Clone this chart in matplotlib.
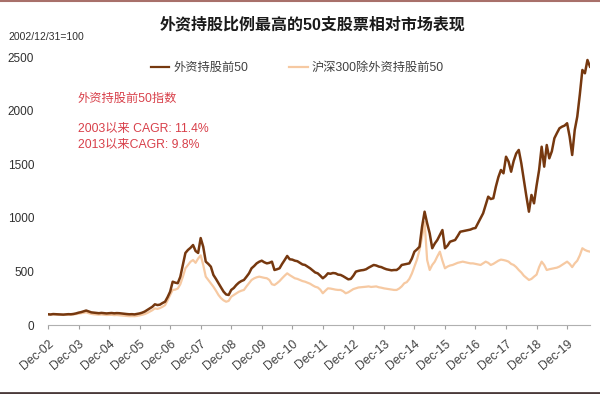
import matplotlib
matplotlib.use("Agg")
import matplotlib.pyplot as plt
from matplotlib.lines import Line2D

plt.rcParams['font.family'] = ['Liberation Sans', 'Noto Sans CJK SC', 'DejaVu Sans']

# Monthly index values, Dec-2002 = 100
top50 = [
    100, 98, 102, 101, 99, 100, 97, 99, 101, 100, 103, 108,
    115, 120, 128, 135, 126, 118, 115, 112, 110, 113, 111, 108,
    110, 112, 109, 111, 110, 107, 104, 102, 100, 101, 99, 103,
    108, 115, 125, 140, 155, 170, 193, 186, 190, 205, 217, 260,
    311, 404, 395, 390, 450, 560, 672, 700, 720, 746, 690, 672,
    811, 730, 591, 570, 544, 467, 430, 389, 350, 311, 285, 280,
    327, 345, 373, 395, 410, 420, 450, 482, 529, 550, 575, 590,
    600, 585, 575, 580, 591, 513, 520, 529, 570, 606, 644, 613,
    610, 600, 595, 580, 565, 560, 545, 529, 510, 490, 482, 460,
    436, 455, 482, 478, 485, 482, 470, 467, 455, 440, 426, 430,
    460, 498, 505, 510, 513, 520, 535, 548, 560, 555, 545, 540,
    529, 520, 515, 510, 513, 513, 530, 560, 565, 570, 575, 620,
    684, 705, 730, 917, 1057, 949, 855, 716, 760, 793, 840, 886,
    716, 740, 777, 785, 793, 830, 870, 875, 880, 886, 890, 900,
    905, 950, 995, 1042, 1120, 1197, 1175, 1182, 1290, 1380, 1446, 1415,
    1570, 1524, 1430, 1530, 1600, 1633, 1509, 1353, 1200, 1057, 1213, 1135,
    1300, 1446, 1663, 1477, 1679, 1555, 1620, 1742, 1790, 1835, 1850, 1860,
    1882, 1757, 1586, 1819, 1944, 2150, 2379, 2348, 2472, 2410,
]

hs300_ex = [
    100, 97, 99, 98, 95, 96, 94, 95, 97, 96, 98, 102,
    106, 110, 115, 118, 110, 104, 100, 98, 96, 98, 95, 93,
    94, 95, 92, 93, 91, 88, 86, 84, 82, 83, 82, 85,
    90, 95, 102, 112, 125, 138, 155, 150, 158, 170, 185, 230,
    280, 327, 330, 340, 380, 450, 529, 560, 590, 606, 580, 620,
    650, 560, 451, 420, 390, 357, 320, 280, 250, 230, 217, 225,
    264, 280, 295, 310, 320, 327, 360, 390, 420, 435, 445, 451,
    445, 440, 436, 420, 380, 373, 390, 410, 436, 460, 482, 465,
    450, 436, 430, 420, 410, 404, 395, 385, 370, 357, 350, 330,
    296, 320, 342, 340, 335, 330, 327, 327, 315, 296, 305, 320,
    335, 342, 350, 352, 355, 357, 360, 355, 357, 360, 352, 348,
    342, 338, 335, 330, 327, 327, 340, 360, 389, 400, 430, 480,
    544, 610, 700, 820, 960, 606, 513, 560, 591, 640, 684, 600,
    529, 545, 555, 560, 570, 580, 585, 591, 585, 580, 575, 575,
    570, 565, 560, 575, 591, 580, 560, 570, 585, 600, 610, 606,
    600, 591, 570, 560, 540, 513, 490, 460, 440, 420, 430, 451,
    470, 540, 591, 560, 513, 520, 525, 529, 535, 545, 560, 575,
    591, 570, 540, 575, 600, 650, 716, 700, 690, 684,
]

tick_labels = ['Dec-02', 'Dec-03', 'Dec-04', 'Dec-05', 'Dec-06', 'Dec-07',
               'Dec-08', 'Dec-09', 'Dec-10', 'Dec-11', 'Dec-12', 'Dec-13',
               'Dec-14', 'Dec-15', 'Dec-16', 'Dec-17', 'Dec-18', 'Dec-19']
y_ticks = [0, 500, 1000, 1500, 2000, 2500]

series_names = ['外资持股前50', '沪深300除外资持股前50']
dark_c = '#76380f'
light_c = '#f6c9a2'

fig = plt.figure(figsize=(6.0, 3.94), dpi=100)
ax = fig.add_axes([48/600, 69/394, 542/600, 268/394])

months = list(range(len(top50)))
ax.plot(months, hs300_ex, color=light_c, lw=1.6, zorder=2)
ax.plot(months, top50, color=dark_c, lw=1.8, zorder=3)

ax.set_xlim(0, 213)
ax.set_ylim(0, 2500)
ax.set_xticks([12*i for i in range(len(tick_labels))])
ax.set_xticklabels(tick_labels, rotation=40, ha='right', rotation_mode='anchor',
                   fontsize=8.8, color='#404040')
ax.set_yticks(y_ticks)
ax.set_yticklabels([str(v) for v in y_ticks], fontsize=8.5, color='#303030')
ax.tick_params(axis='y', length=0, pad=10)
ax.tick_params(axis='x', length=3, width=0.8, color='#a0a0a0', pad=6)
for s in ['top', 'right', 'left']:
    ax.spines[s].set_visible(False)
ax.spines['bottom'].set_color('#b0b0b0')
ax.spines['bottom'].set_linewidth(0.8)

# Title and notes
fig.text(313/600, 1-25/394, '外资持股比例最高的50支股票相对市场表现', ha='center', va='center',
         fontsize=11.5, fontweight='bold', color='#1a1a1a')
fig.text(8/600, 1-37/394, '2002/12/31=100', ha='left', va='center', fontsize=7.5, color='#303030')

handles = [Line2D([], [], color=dark_c, lw=1.6), Line2D([], [], color=light_c, lw=1.6)]
fig.legend(handles, series_names, loc='center left', bbox_to_anchor=(151/600, 1-68/394),
           ncol=2, frameon=False, fontsize=8.8, handlelength=1.5, handletextpad=0.3,
           columnspacing=3.4, borderpad=0, borderaxespad=0, labelcolor='#404040')

red = '#d8404a'
fig.text(78/600, 1-99/394, '外资持股前50指数', ha='left', va='center', fontsize=8.8, color=red)
fig.text(78/600, 1-129/394, '2003以来 CAGR: 11.4%', ha='left', va='center', fontsize=8.8, color=red)
fig.text(78/600, 1-145/394, '2013以来CAGR: 9.8%', ha='left', va='center', fontsize=8.8, color=red)

# frame lines of the report figure
fig.add_artist(Line2D([0, 1], [1-1/394, 1-1/394], transform=fig.transFigure, color='#a8706a', lw=1.5))
fig.add_artist(Line2D([0, 1], [1/394, 1/394], transform=fig.transFigure, color='#4a3a3a', lw=2))

fig.savefig('out.png', dpi=100)
